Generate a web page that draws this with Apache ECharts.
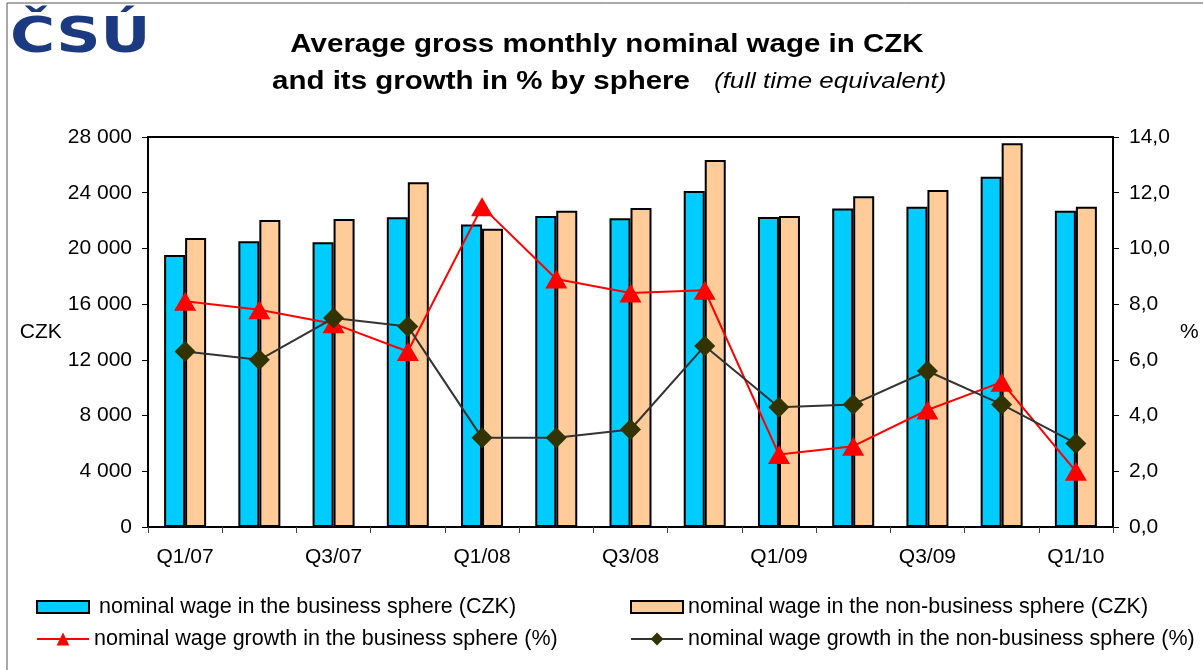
<!DOCTYPE html>
<html>
<head>
<meta charset="utf-8">
<script src="https://cdn.jsdelivr.net/npm/echarts@6/dist/echarts.min.js"></script>
<style>html,body{margin:0;padding:0;background:#fff}#c{width:1203px;height:670px}</style>
</head>
<body>
<div id="c"></div>
<script>
var categories = ['Q1/07','Q2/07','Q3/07','Q4/07','Q1/08','Q2/08','Q3/08','Q4/08','Q1/09','Q2/09','Q3/09','Q4/09','Q1/10'];
var wageBusiness = [19530, 20510, 20440, 22240, 21710, 22330, 22160, 24120, 22260, 22860, 23000, 25150, 22710];
var wageNonBusiness = [20750, 22040, 22110, 24750, 21420, 22710, 22900, 26350, 22330, 23740, 24200, 27550, 23000];
var growthBusiness = [8.1, 7.8, 7.3, 6.3, 11.5, 8.9, 8.4, 8.5, 2.6, 2.9, 4.2, 5.2, 2.0];
var growthNonBusiness = [6.3, 6.0, 7.5, 7.2, 3.2, 3.2, 3.5, 6.5, 4.3, 4.4, 5.6, 4.4, 3.0];
var leftTicks = {min: 0, max: 28000, interval: 4000};
var rightTicks = {min: 0, max: 14, interval: 2};

var FONT = "'Liberation Sans', Arial, sans-serif";
var chart = echarts.init(document.getElementById('c'));

function fmtThousands(v){ return String(v).replace(/\B(?=(\d{3})+(?!\d))/g, ' '); }
function fmtPct(v){ return v.toFixed(1).replace('.', ','); }

var legendText = {fontFamily: FONT, fontSize: 21.5, color: '#000'};
function mkLegend(left, top, name, extra){
  return Object.assign({
    orient: 'horizontal', left: left, top: top, itemWidth: 52, itemHeight: 12,
    selectedMode: false, data: [name], textStyle: legendText, padding: 0
  }, extra || {});
}

var option = {
  backgroundColor: '#fff',
  animation: false,
  graphic: [
    {type: 'rect', shape: {x: 7, y: 3, width: 1300, height: 800}, style: {fill: 'none', stroke: '#555', lineWidth: 1}, silent: true, z: -10},
    {type: 'text', x: 10, y: 14, scaleX: 1.23, style: {text: 'ČSÚ', font: "bold 50px 'DejaVu Sans'", fill: '#1c3a82', textVerticalAlign: 'top'}},
    {type: 'text', x: 607, y: 45, scaleX: 1.18, style: {text: 'Average gross monthly nominal wage in CZK', font: "bold 25px " + FONT, fill: '#000', textAlign: 'center', textVerticalAlign: 'middle'}},
    {type: 'text', x: 272, y: 82, scaleX: 1.18, style: {text: 'and its growth in % by sphere', font: "bold 25px " + FONT, fill: '#000', textAlign: 'left', textVerticalAlign: 'middle'}},
    {type: 'text', x: 714, y: 82, scaleX: 1.18, style: {text: '(full time equivalent)', font: "italic 22px " + FONT, fill: '#000', textAlign: 'left', textVerticalAlign: 'middle'}}
  ],
  legend: [
    mkLegend(36, 596, 'nominal wage in the business sphere (CZK)', {icon: 'rect', textStyle: Object.assign({}, legendText, {padding: [0,0,0,5]})}),
    mkLegend(630, 596, 'nominal wage in the non-business sphere (CZK)', {icon: 'rect'}),
    mkLegend(36, 628, 'nominal wage growth in the business sphere (%)', {itemHeight: 16}),
    mkLegend(630, 628, 'nominal wage growth in the non-business sphere (%)', {itemHeight: 16})
  ],
  grid: {left: 148, right: 90, top: 137, bottom: 143, show: true, borderColor: '#000', borderWidth: 2, containLabel: false},
  xAxis: {
    type: 'category', data: categories, boundaryGap: true,
    axisLine: {lineStyle: {color: '#000', width: 2}},
    axisTick: {show: true, interval: 0, length: 6, lineStyle: {color: '#444', width: 1}},
    axisLabel: {interval: 1, fontFamily: FONT, fontSize: 21, color: '#000', margin: 20}
  },
  yAxis: [
    {
      type: 'value', min: leftTicks.min, max: leftTicks.max, interval: leftTicks.interval,
      name: 'CZK', nameLocation: 'middle', nameRotate: 0, nameGap: 86,
      nameTextStyle: {fontFamily: FONT, fontSize: 21, color: '#000'},
      axisLine: {show: true, lineStyle: {color: '#000', width: 2}},
      axisTick: {show: true, length: 6, lineStyle: {color: '#000', width: 1}},
      splitLine: {show: false},
      axisLabel: {formatter: fmtThousands, fontFamily: FONT, fontSize: 21, color: '#000', margin: 16}
    },
    {
      type: 'value', min: rightTicks.min, max: rightTicks.max, interval: rightTicks.interval, position: 'right',
      name: '%', nameLocation: 'middle', nameRotate: 0, nameGap: 67,
      nameTextStyle: {fontFamily: FONT, fontSize: 21, color: '#000'},
      axisLine: {show: true, lineStyle: {color: '#000', width: 2}},
      axisTick: {show: true, length: 6, lineStyle: {color: '#000', width: 1}},
      splitLine: {show: false},
      axisLabel: {formatter: fmtPct, fontFamily: FONT, fontSize: 21, color: '#000', margin: 16}
    }
  ],
  series: [
    {name: 'nominal wage in the business sphere (CZK)', type: 'bar', data: wageBusiness, barWidth: 21, barGap: '0%',
     itemStyle: {color: '#00ccff', borderColor: '#000', borderWidth: 2}},
    {name: 'nominal wage in the non-business sphere (CZK)', type: 'bar', data: wageNonBusiness, barWidth: 21, barGap: '0%',
     itemStyle: {color: '#ffcc99', borderColor: '#000', borderWidth: 2}},
    {name: 'nominal wage growth in the business sphere (%)', type: 'line', yAxisIndex: 1, data: growthBusiness,
     symbol: 'triangle', symbolSize: [22, 19], lineStyle: {color: '#ff0000', width: 2},
     itemStyle: {color: '#ff0000', borderWidth: 0}, z: 3},
    {name: 'nominal wage growth in the non-business sphere (%)', type: 'line', yAxisIndex: 1, data: growthNonBusiness,
     symbol: 'diamond', symbolSize: [21, 21], lineStyle: {color: '#333333', width: 2},
     itemStyle: {color: '#333300', borderWidth: 0}, z: 4}
  ]
};
chart.setOption(option);
</script>
</body>
</html>
